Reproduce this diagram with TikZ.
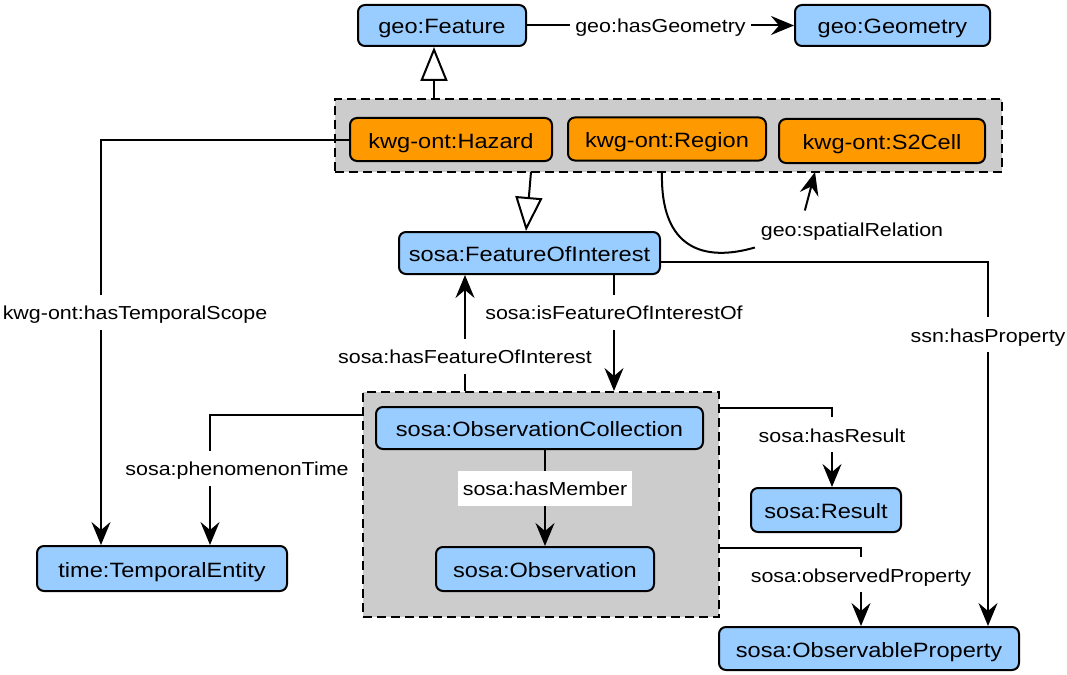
\documentclass[tikz,border=0pt]{standalone}
\usepackage{fontspec}
\setmainfont[FakeStretch=1.14]{Liberation Sans}
\usepackage{xcolor}
\usetikzlibrary{arrows.meta, positioning, calc}

\definecolor{clsblue}{HTML}{99CCFF}
\definecolor{kwgorange}{HTML}{FF9900}
\definecolor{grpgrey}{HTML}{CCCCCC}

\begin{document}
\begin{tikzpicture}[x=1pt, y=-1pt, line width=2pt,
            >={Stealth[length=23pt, width=19pt, inset=8pt]},
            cls/.style={draw, rounded corners=7pt, fill=clsblue, inner sep=0pt,
                text height=18pt, text depth=1pt, font=\fontsize{20.7}{24}\selectfont},
            kwg/.style={cls, fill=kwgorange},
            grp/.style={draw, fill=grpgrey, dash pattern=on 9pt off 5pt, inner sep=0pt},
            lbl/.style={fill=white, inner xsep=5pt, inner ysep=8.5pt, text height=16.5pt,
                text depth=1.5pt, font=\fontsize{18.8}{22}\selectfont},
            sub/.style={-{Triangle[fill=white, length=34pt, width=27pt]}}]

            \useasboundingbox (0,0) rectangle (1067,674);

            \node[grp, minimum width=667pt, minimum height=73pt] (hazGroup) at (668.5,135.5) {};
            \node[grp, minimum width=356pt, minimum height=225pt] (obsGroup) at (541,504.5) {};

            \node[cls, minimum width=168pt, minimum height=41pt] (geoFeature) at (442,25.5) {geo:Feature};
            \node[cls, minimum width=195pt, minimum height=41pt] (geoGeometry) at (892.5,25.5) {geo:Geometry};
            \node[kwg, minimum width=202pt, minimum height=43pt] (hazard) at (451,139.5) {kwg-ont:Hazard};
            \node[kwg, minimum width=198pt, minimum height=43pt] (region) at (667,139) {kwg-ont:Region};
            \node[kwg, minimum width=206pt, minimum height=44pt] (s2cell) at (882,141) {kwg-ont:S2Cell};
            \node[cls, minimum width=261pt, minimum height=42pt] (foi) at (529.5,253) {sosa:FeatureOfInterest};
            \node[cls, minimum width=327pt, minimum height=42pt] (obsColl) at (539.5,428) {sosa:ObservationCollection};
            \node[cls, minimum width=218pt, minimum height=44pt] (obs) at (545,569) {sosa:Observation};
            \node[cls, minimum width=250pt, minimum height=45pt] (temporal) at (162,568.5) {time:TemporalEntity};
            \node[cls, minimum width=150pt, minimum height=44pt] (result) at (826,510) {sosa:Result};
            \node[cls, minimum width=300pt, minimum height=43pt] (obsProp) at (869,648.5) {sosa:ObservableProperty};

            \coordinate (hgTop) at (434,99);
            \coordinate (hgBot) at (531,172);
            \coordinate (srStart) at (662,172);
            \coordinate (srEnd) at (815,172);

            \draw[->] (geoFeature) -- node[lbl] {geo:hasGeometry} (geoGeometry);
            \draw[sub] (hgTop) -- (hgTop |- geoFeature.south);
            \draw[sub] (hgBot) -- ([xshift=-3.5pt]foi.north);

            \node[lbl] (srLbl) at (852,229) {geo:spatialRelation};
            \draw (srStart) .. controls (660,250) and (705,262) .. (srLbl.south west);
            \draw[->] ([xshift=50pt]srLbl.north west) -- (srEnd);

            \draw[->] (hazard.west) -| ([xshift=-61pt]temporal.north);
            \node[lbl] (tsLbl) at (135,312) {kwg-ont:hasTemporalScope};
            \draw[->] ([yshift=89.5pt]obsGroup.west) -| ([xshift=48pt]temporal.north);
            \node[lbl] (ptLbl) at (237,468) {sosa:phenomenonTime};

            \draw[->] ([xshift=-76pt]obsGroup.north) -- node[lbl, pos=0.3] {sosa:hasFeatureOfInterest} ([xshift=-64.5pt]foi.south);
            \draw[->] ([xshift=84.5pt]foi.south) -- node[lbl, pos=0.32] {sosa:isFeatureOfInterestOf} ([xshift=73pt]obsGroup.north);
            \draw[->] (obsColl.south -| obs.north) -- node[lbl, pos=0.4] {sosa:hasMember} (obs.north);

            \draw[->] ([yshift=96.5pt]obsGroup.east) -| node[lbl, pos=0.67] {sosa:hasResult} ([xshift=6pt]result.north);
            \draw[->] ([yshift=-43.5pt]obsGroup.east) -| node[lbl, pos=0.67] {sosa:observedProperty} ([xshift=-8pt]obsProp.north);
            \draw[->] ([yshift=-9pt]foi.east) -| node[lbl, pos=0.6] {ssn:hasProperty} ([xshift=119pt]obsProp.north);
        \end{tikzpicture}
\end{document}
